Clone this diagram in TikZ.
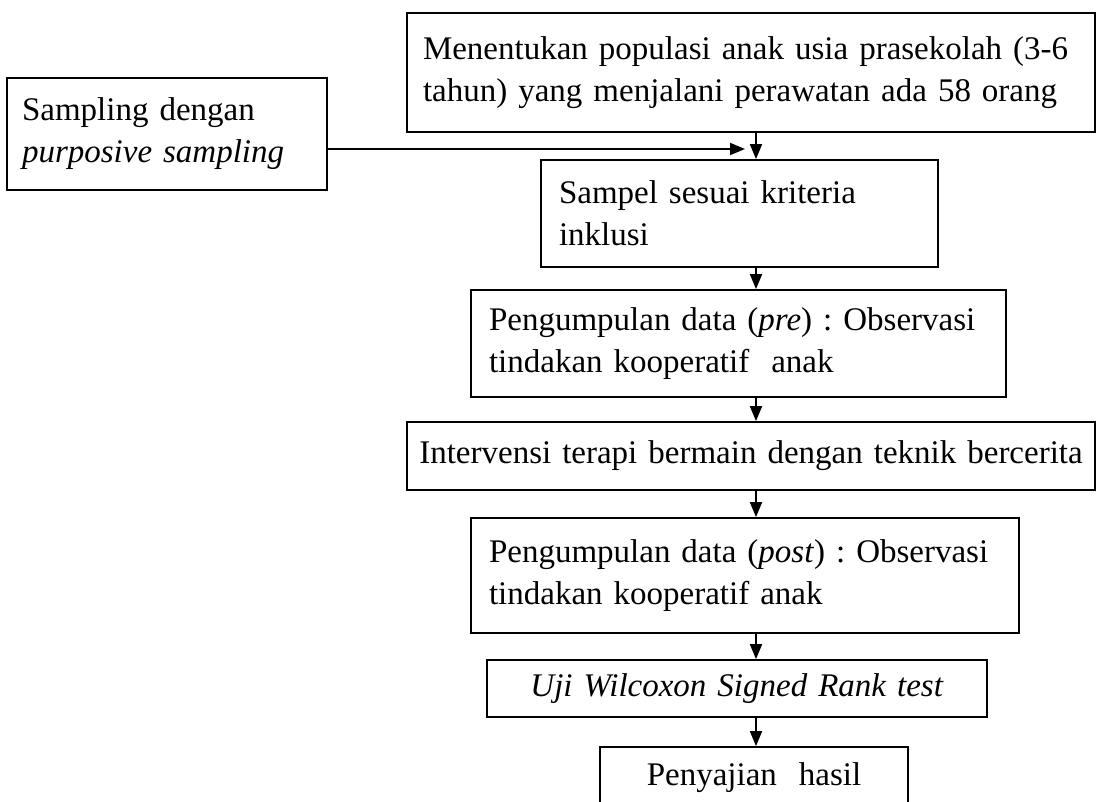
\documentclass[tikz,border=0pt]{standalone}
\usepackage{fontspec}
\setmainfont{Liberation Serif}[WordSpace=0.85]
\usetikzlibrary{arrows.meta}
\frenchspacing
\begin{document}
\begin{tikzpicture}[x=1pt,y=-1pt,
  box/.style={draw, line width=1.8pt, inner ysep=0pt, inner xsep=18pt,
    font=\fontsize{33}{42}\selectfont\frenchspacing},
  conn/.style={line width=1.8pt, -{Triangle[length=15pt,width=12pt]}}]
\useasboundingbox (0,0) rectangle (1102,802);
\clip (0,0) rectangle (1102,802);
% boxes
\node[box, minimum width=688pt, minimum height=119pt, text width=656pt, inner xsep=16pt, align=left]
  (pop) at (751,72.5) {Menentukan populasi anak usia prasekolah (3-6\\tahun) yang menjalani perawatan ada 58 orang};
\node[box, minimum width=320pt, minimum height=112pt, text width=290pt, inner xsep=15pt, align=left]
  (samp) at (167,134) {Sampling dengan\\\textit{purposive sampling}};
\node[box, minimum width=397pt, minimum height=107pt, text width=361pt, align=left]
  (kri) at (739.5,213.5) {Sampel sesuai kriteria\\inklusi};
\node[box, minimum width=535pt, minimum height=107pt, text width=499pt, align=left]
  (pre) at (738.5,343.5) {Pengumpulan data (\textit{pre}) : Observasi\\tindakan kooperatif~ anak};
\node[box, minimum width=688pt, minimum height=68pt, text width=672pt, inner xsep=8pt, align=center]
  (int) at (751,456) {Intervensi terapi bermain dengan teknik bercerita};
\node[box, minimum width=548pt, minimum height=115pt, text width=512pt, align=left]
  (post) at (745,575.5) {Pengumpulan data (\textit{post}) : Observasi\\tindakan kooperatif anak};
\node[box, minimum width=500pt, minimum height=57pt, text width=464pt, align=center]
  (uji) at (737,688.5) {\textit{Uji Wilcoxon Signed Rank test}};
\node[box, minimum width=308pt, minimum height=62pt, text width=272pt, align=center]
  (hasil) at (754,778) {Penyajian~ hasil};
% connectors
\coordinate (ax) at (756,0);
\coordinate (htip) at (745,149);
\draw[conn] (samp.east |- htip) -- (htip);
\draw[conn] (pop.south -| ax) -- (kri.north -| ax);
\draw[conn] (kri.south -| ax) -- (pre.north -| ax);
\draw[conn] (pre.south -| ax) -- (int.north -| ax);
\draw[conn] (int.south -| ax) -- (post.north -| ax);
\draw[conn] (post.south -| ax) -- (uji.north -| ax);
\draw[conn] (uji.south -| ax) -- (hasil.north -| ax);
\end{tikzpicture}
\end{document}
